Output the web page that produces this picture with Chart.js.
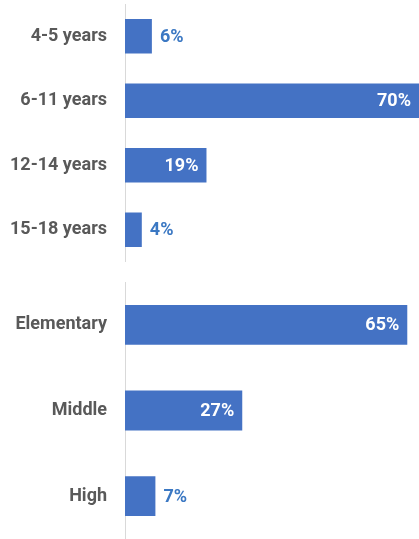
<!DOCTYPE html>
<html>
<head>
<meta charset="utf-8">
<script src="https://cdn.jsdelivr.net/npm/chart.js@4/dist/chart.umd.min.js"></script>
<style>
  html, body { margin: 0; padding: 0; background: #fff; }
  #wrap { position: relative; width: 419px; height: 539px; overflow: hidden; }
  .box { position: absolute; left: 0; width: 419px; }
</style>
</head>
<body>
<div id="wrap">
  <div class="box" style="top:0;height:262px"><canvas id="ageChart"></canvas></div>
  <div class="box" style="top:282px;height:257px"><canvas id="schoolChart"></canvas></div>
</div>
<script>
// age groups
var ageLabels = ["4-5 years", "6-11 years", "12-14 years", "15-18 years"];
var ageValues = [6.4, 70, 19.4, 4];
// school level
var schoolLabels = ["Elementary", "Middle", "High"];
var schoolValues = [65, 27, 7];

var barColor = "#4472C4";
var labelFont = "bold 18px Roboto";

// value labels: white inside big bars, blue beside small ones
var valuePlugin = {
  id: "valueLabels",
  afterDatasetsDraw: function (chart) {
    var ctx = chart.ctx;
    var meta = chart.getDatasetMeta(0);
    var vals = chart.data.datasets[0].data;
    ctx.save();
    ctx.font = labelFont;
    ctx.textBaseline = "middle";
    meta.data.forEach(function (bar, i) {
      var txt = Math.round(vals[i]) + "%";
      var w = bar.x - bar.base;
      if (w > 50) {
        ctx.fillStyle = "#ffffff";
        ctx.textAlign = "right";
        ctx.fillText(txt, bar.x - 8, bar.y + 1);
      } else {
        ctx.fillStyle = "#3b78c3";
        ctx.textAlign = "left";
        ctx.fillText(txt, bar.x + 8, bar.y + 1);
      }
    });
    ctx.restore();
  }
};

function makeChart(id, labels, values, maxX, barPct, padTop) {
  return new Chart(document.getElementById(id), {
    type: "bar",
    data: {
      labels: labels,
      datasets: [{
        data: values,
        backgroundColor: barColor,
        borderWidth: 0,
        barPercentage: barPct,
        categoryPercentage: 1
      }]
    },
    options: {
      indexAxis: "y",
      responsive: true,
      maintainAspectRatio: false,
      animation: false,
      layout: { padding: { top: padTop, right: 0, bottom: 0, left: 0 } },
      plugins: { legend: { display: false }, tooltip: { enabled: false } },
      scales: {
        x: { display: false, min: 0, max: maxX },
        y: {
          grid: { display: false, drawTicks: false },
          border: { display: true, color: "#d9d9d9", width: 1 },
          ticks: {
            color: "#595959",
            font: { family: "Roboto", size: 18, weight: "bold" },
            padding: 18
          },
          afterFit: function (scale) {
            scale.width = 125;
            scale.paddingTop = 0;
            scale.paddingBottom = 0;
          }
        }
      }
    },
    plugins: [valuePlugin]
  });
}

makeChart("ageChart", ageLabels, ageValues, 70, 0.535, 4);
makeChart("schoolChart", schoolLabels, schoolValues, 67.7, 0.465, 0);
</script>
</body>
</html>
